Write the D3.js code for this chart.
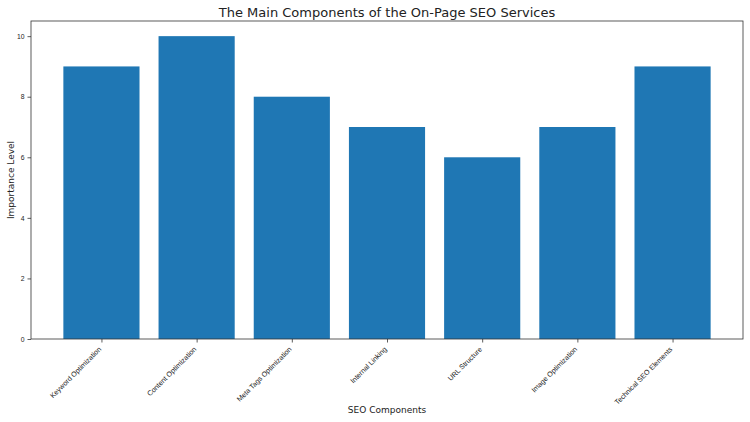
<!DOCTYPE html>
<html>
<head>
<meta charset="utf-8">
<script src="https://cdn.jsdelivr.net/npm/d3@7"></script>
<style>
  body { margin: 0; background: #fff; }
  svg { font-family: "DejaVu Sans", sans-serif; }
</style>
</head>
<body>
<div id="chart"></div>
<script>
// Data
const components = [
    "Keyword Optimization",
    "Content Optimization",
    "Meta Tags Optimization",
    "Internal Linking",
    "URL Structure",
    "Image Optimization",
    "Technical SEO Elements"
];
const importance = [9, 10, 8, 7, 6, 7, 9];
const yTicks = [0, 2, 4, 6, 8, 10];

let
    width = 750,
    height = 422;

let margin = {
    top: 21,
    bottom: 83,
    left: 31,
    right: 7
};

let svg = d3.select('#chart')
        .append('svg')
        .attr('width', width)
        .attr('height', height);

// matplotlib style: bar width 0.8, 5% margins on x
let xScale = d3.scaleLinear()
            .domain([-0.74, components.length - 1 + 0.74])
            .range([margin.left, width - margin.right]);

let yScale = d3.scaleLinear()
            .domain([0, 10.5])
            .range([height - margin.bottom, margin.top]);

// Bars
svg.selectAll('rect.bar')
    .data(importance)
    .enter()
    .append('rect')
    .attr('class', 'bar')
    .attr('x', (d, i) => xScale(i - 0.4))
    .attr('width', xScale(0.4) - xScale(-0.4))
    .attr('y', d => yScale(d))
    .attr('height', d => yScale(0) - yScale(d))
    .style('fill', '#1f77b4');

// Axes
let xAxis = svg.append('g')
    .attr('transform', `translate(0, ${height - margin.bottom})`)
    .call(d3.axisBottom(xScale)
        .tickValues(d3.range(components.length))
        .tickFormat(i => components[i])
        .tickSize(3.5)
        .tickPadding(3)
        .tickSizeOuter(0));

// rotated 45 degrees, end of the label at the tick
xAxis.selectAll('text')
    .style('font-size', '7.1px')
    .style('fill', '#222')
    .attr('text-anchor', 'end')
    .attr('x', 0)
    .attr('y', 0)
    .attr('dy', '0.35em')
    .attr('transform', 'translate(-2,9) rotate(-45)');

let yAxis = svg.append('g')
    .attr('transform', `translate(${margin.left}, 0)`)
    .call(d3.axisLeft(yScale)
        .tickValues(yTicks)
        .tickSize(3.5)
        .tickPadding(3)
        .tickSizeOuter(0));

yAxis.selectAll('text')
    .style('font-size', '6.8px')
    .style('fill', '#222');

svg.selectAll('.domain').remove();
svg.selectAll('.tick line').attr('stroke', '#333').attr('stroke-width', 0.8);

// Frame around plot area
svg.append('rect')
    .attr('x', margin.left)
    .attr('y', margin.top)
    .attr('width', width - margin.left - margin.right)
    .attr('height', height - margin.top - margin.bottom)
    .attr('fill', 'none')
    .attr('stroke', '#333')
    .attr('stroke-width', 0.8);

// Title
svg.append('text')
    .attr('x', (margin.left + width - margin.right) / 2)
    .attr('y', 17)
    .text('The Main Components of the On-Page SEO Services')
    .style('text-anchor', 'middle')
    .style('font-size', '13px')
    .style('fill', '#222');

// x-axis label
svg.append('text')
    .attr('x', (margin.left + width - margin.right) / 2)
    .attr('y', 413)
    .text('SEO Components')
    .style('text-anchor', 'middle')
    .style('font-size', '9px')
    .style('fill', '#222');

// y-axis label
svg.append('text')
    .attr('x', 0 - (margin.top + height - margin.bottom) / 2)
    .attr('y', 14)
    .text('Importance Level')
    .style('text-anchor', 'middle')
    .style('font-size', '9px')
    .style('fill', '#222')
    .attr('transform', 'rotate(-90)');
</script>
</body>
</html>
